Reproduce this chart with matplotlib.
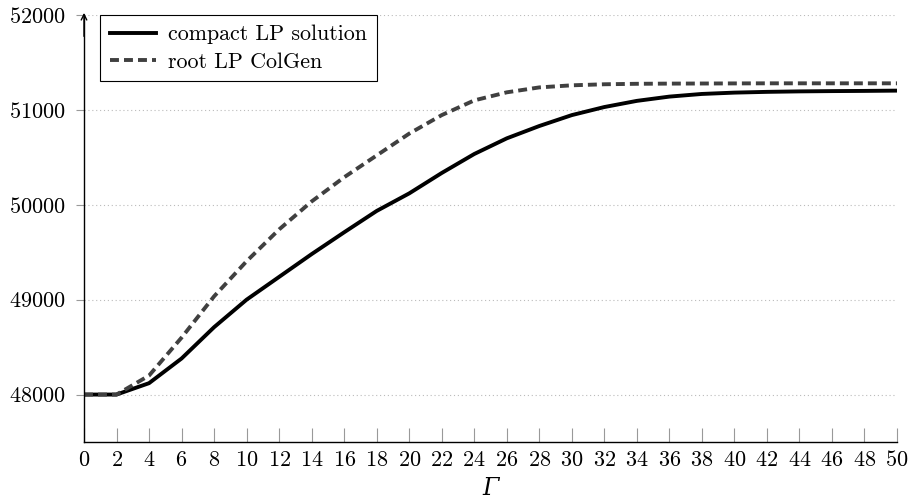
import numpy as np
import matplotlib
matplotlib.use('Agg')
import matplotlib.pyplot as plt

plt.rcParams['font.family'] = ['cmr10', 'DejaVu Serif']
plt.rcParams['mathtext.fontset'] = 'cm'
plt.rcParams['axes.formatter.use_mathtext'] = True

gamma = [0, 2, 4, 6, 8, 10, 12, 14, 16, 18, 20, 22, 24,
         26, 28, 30, 32, 34, 36, 38, 40, 42, 44, 46, 48, 50]
compact_lp = [48000, 48000, 48120, 48380, 48710, 49000, 49240, 49480, 49710,
              49935, 50120, 50335, 50535, 50700, 50830, 50945, 51030, 51095,
              51140, 51168, 51182, 51190, 51195, 51198, 51200, 51203]
root_colgen = [48000, 48000, 48200, 48600, 49035, 49405, 49740, 50035, 50290,
               50520, 50750, 50945, 51100, 51185, 51237, 51259, 51270, 51275,
               51277, 51278, 51279, 51280, 51280, 51280, 51280, 51280]

fig = plt.figure(figsize=(9.11, 5), dpi=100)
ax = fig.add_axes([84/911, 1-442/500, 813/911, 427/500])

ax.plot(gamma, compact_lp, color='black', lw=2.8, label='compact LP solution',
        solid_joinstyle='round')
ax.plot(gamma, root_colgen, color='#404040', lw=2.8, dashes=(2.3, 1.3),
        dash_capstyle='butt', label='root LP ColGen')

ax.set_xlim(0, 50)
ax.set_ylim(47500, 52000)
ax.set_xticks(np.arange(0, 51, 2))
ax.set_yticks([48000, 49000, 50000, 51000, 52000])

for s in ['top', 'right']:
    ax.spines[s].set_visible(False)
for s in ['left', 'bottom']:
    ax.spines[s].set_linewidth(1.0)

ax.tick_params(axis='x', direction='in', length=10, width=0.8, color='#999999',
               labelsize=16, pad=6)
ax.tick_params(axis='y', direction='out', length=6, width=0.8, color='#999999',
               labelsize=16, pad=7)

ax.yaxis.grid(True, linestyle=(0, (1, 2.5)), color='#bbbbbb', lw=0.8)
ax.set_axisbelow(True)

ax.annotate('', xy=(0, 1.005), xytext=(0, 0.95), xycoords='axes fraction',
            arrowprops=dict(arrowstyle='->', lw=1.0, color='black',
                            shrinkA=0, shrinkB=0))

ax.set_xlabel('Γ', family='DejaVu Serif', style='italic', fontsize=17,
              labelpad=5)

leg = ax.legend(loc='upper left', bbox_to_anchor=(16/813, 1.0), borderaxespad=0,
                fancybox=False, framealpha=1, edgecolor='black', fontsize=15.8,
                handlelength=2.1, handletextpad=0.55, borderpad=0.45,
                labelspacing=0.35)
leg.get_frame().set_linewidth(0.8)

fig.savefig('out.png', dpi=100)
